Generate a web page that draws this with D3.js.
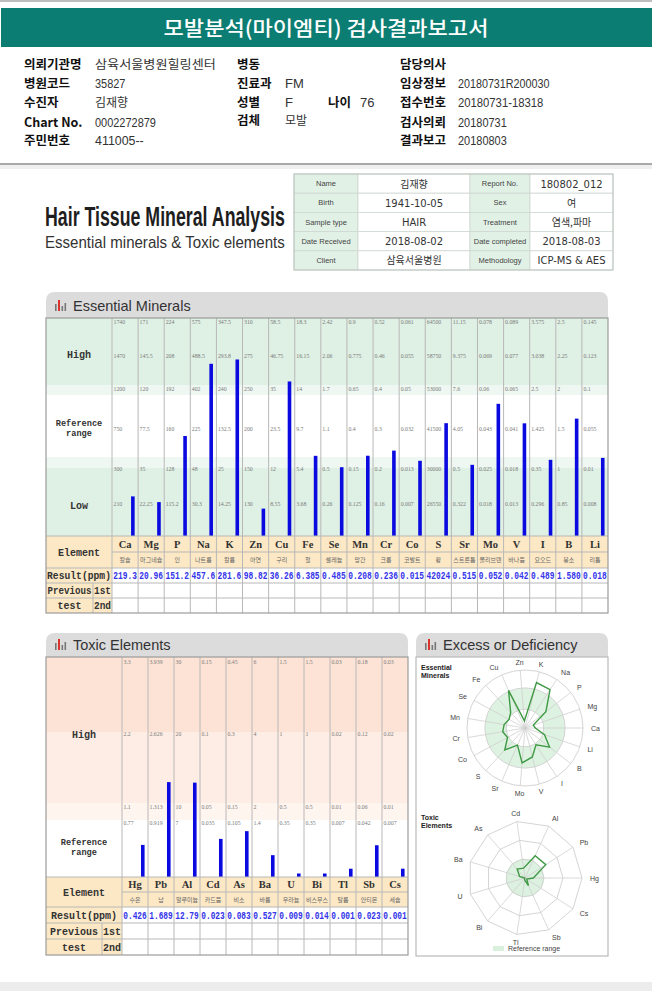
<!DOCTYPE html>
<html><head><meta charset="utf-8">
<script src="https://cdn.jsdelivr.net/npm/d3@7"></script>
<style>body{margin:0;background:#fff}svg{display:block}</style>
</head><body><svg id="c" width="652" height="991"></svg>
<script>
// ---------------- DATA ----------------
const reportTitle = "모발분석(마이엠티) 검사결과보고서";
const infoCol1Labels = ["의뢰기관명","병원코드","수진자","Chart No.","주민번호"];
const infoCol1Values = ["삼육서울병원힐링센터","35827","김재향","0002272879","411005--"];
const infoCol2Labels = ["병동","진료과","성별","검체"];
const infoCol2Values = ["","FM","F","모발"];
const infoCol3Labels = ["담당의사","임상정보","접수번호","검사의뢰","결과보고"];
const infoCol3Values = ["","20180731R200030","20180731-18318","20180731","20180803"];
const ageLabel = "나이", ageValue = "76";

const sheetLeftLabels = ["Name","Birth","Sample type","Date Received","Client"];
const sheetLeftValues = ["김재향","1941-10-05","HAIR","2018-08-02","삼육서울병원"];
const sheetRightLabels = ["Report No.","Sex","Treatment","Date completed","Methodology"];
const sheetRightValues = ["180802_012","여","염색,파마","2018-08-03","ICP-MS & AES"];

const essentialElements = ["Ca","Mg","P","Na","K","Zn","Cu","Fe","Se","Mn","Cr","Co","S","Sr","Mo","V","I","B","Li"];
const essentialKorean = ["칼슘","마그네슘","인","나트륨","칼륨","아연","구리","철","셀레늄","망간","크롬","코발트","황","스트론튬","몰리브덴","바나듐","요오드","붕소","리튬"];
const essentialResults = ["219.3","20.96","151.2","457.6","281.6","98.82","36.26","6.385","0.485","0.208","0.236","0.015","42024","0.515","0.052","0.042","0.489","1.580","0.018"];
// tick labels per element, top -> bottom
const essentialTicks = [
 ["1740","1470","1200","750","300","210"],
 ["171","145.5","120","77.5","35","22.25"],
 ["224","208","192","160","128","115.2"],
 ["575","488.5","402","225","48","30.3"],
 ["347.5","293.8","240","132.5","25","14.25"],
 ["310","275","250","200","150","130"],
 ["58.5","46.75","35","23.5","12","8.55"],
 ["18.3","16.15","14","9.7","5.4","3.68"],
 ["2.42","2.06","1.7","1.1","0.5","0.26"],
 ["0.9","0.775","0.65","0.4","0.15","0.125"],
 ["0.52","0.46","0.4","0.3","0.2","0.16"],
 ["0.061","0.055","0.05","0.032","0.013","0.007"],
 ["64500","58750","53000","41500","30000","26550"],
 ["11.15","9.375","7.6","4.05","0.5","0.322"],
 ["0.078","0.069","0.06","0.043","0.025","0.018"],
 ["0.089","0.077","0.065","0.041","0.018","0.013"],
 ["3.575","3.038","2.5","1.425","0.35","0.296"],
 ["2.5","2.25","2","1.5","1","0.85"],
 ["0.145","0.123","0.1","0.055","0.01","0.008"]
];

const toxicElements = ["Hg","Pb","Al","Cd","As","Ba","U","Bi","Tl","Sb","Cs"];
const toxicKorean = ["수은","납","알루미늄","카드뮴","비소","바륨","우라늄","비스무스","탈륨","안티몬","세슘"];
const toxicResults = ["0.426","1.689","12.79","0.023","0.083","0.527","0.009","0.014","0.001","0.023","0.001"];
const toxicTicks = [
 ["3.3","2.2","1.1","0.77"],
 ["3.939","2.626","1.313","0.919"],
 ["30","20","10","7"],
 ["0.15","0.1","0.05","0.035"],
 ["0.45","0.3","0.15","0.105"],
 ["6","4","2","1.4"],
 ["1.5","1","0.5","0.35"],
 ["1.5","1","0.5","0.35"],
 ["0.03","0.02","0.01","0.007"],
 ["0.18","0.12","0.06","0.042"],
 ["0.03","0.02","0.01","0.007"]
];

// ---------------- DRAWING ----------------
const svg = d3.select("#c");
const KR = "'Noto Sans CJK KR', sans-serif";
const SERIF = "'Liberation Serif','DejaVu Serif',serif";
const MONO = "'Liberation Mono','DejaVu Sans Mono',monospace";
const NARROW = "'Liberation Sans Narrow','Liberation Sans',Arial,sans-serif";
const SANS = "'Liberation Sans',Arial,sans-serif";
const hasHangul = s => /[\uac00-\ud7a3]/.test(s);

// squeeze/stretch a text horizontally to a given width (keeps real text)
function fit(sel, width, onlyShrink){
  const n = sel.node(); const len = n.getComputedTextLength();
  if(!len) return sel;
  let k = width/len; if(onlyShrink && k>1) k=1;
  const x=+sel.attr("x"), y=+sel.attr("y");
  sel.attr("x",0).attr("y",0).attr("transform",`translate(${x},${y}) scale(${k},1)`);
  return sel;
}

svg.append("rect").attr("width",652).attr("height",991).attr("fill","#fff");
svg.append("rect").attr("x",0).attr("y",0).attr("width",652).attr("height",2).attr("fill","#bdbdbd");

// title bar
svg.append("rect").attr("x",1).attr("y",8).attr("width",651).attr("height",39).attr("fill","#0b7d72");
fit(svg.append("text").attr("x",326).attr("y",36).attr("text-anchor","middle")
  .attr("font-family",KR).attr("font-size",20.5).attr("font-weight",500).attr("fill","#fff").text(reportTitle),325);

// patient info
function infoCol(labels, values, lx, vx, ys){
  labels.forEach((l,i)=>{
    svg.append("text").attr("x",lx).attr("y",ys[i]).attr("font-family",KR).attr("font-weight",700)
      .attr("font-size",12.5).attr("fill","#111").text(l);
    const v = values[i];
    if(v){
      const t = svg.append("text").attr("x",vx).attr("y",ys[i]).attr("font-family",hasHangul(v)?KR:SANS)
        .attr("font-size",hasHangul(v)?12:13).attr("fill","#333").text(v);
      if(v.length>=4) fit(t, hasHangul(v) ? v.length*12.1 : v.length*6.1);
    }
  });
}
infoCol(infoCol1Labels, infoCol1Values, 24, 95, [69,88,107,127,145]);
infoCol(infoCol2Labels, infoCol2Values, 237, 285, [69,88,107,125]);
infoCol(infoCol3Labels, infoCol3Values, 400, 458, [69,88,107,127,145]);
svg.append("text").attr("x",328).attr("y",107).attr("font-family",KR).attr("font-weight",700).attr("font-size",12.5).attr("fill","#111").text(ageLabel);
svg.append("text").attr("x",360).attr("y",107).attr("font-family",SANS).attr("font-size",13).attr("fill","#333").text(ageValue);

// separator
svg.append("rect").attr("x",0).attr("y",163).attr("width",652).attr("height",2).attr("fill","#a9a9a9");
svg.append("rect").attr("x",0).attr("y",165).attr("width",652).attr("height",4).attr("fill","#efefef");

// Hair tissue title
fit(svg.append("text").attr("x",45).attr("y",226).attr("font-family",NARROW).attr("font-weight",700)
  .attr("font-size",28).attr("fill","#1e1e1e").text("Hair Tissue Mineral Analysis"),240);
fit(svg.append("text").attr("x",45).attr("y",248).attr("font-family",NARROW)
  .attr("font-size",17).attr("fill","#333").text("Essential minerals & Toxic elements"),240);

// sheet table
(function(){
  const colsX=[294,358,470,530,613], y0=174, rh=19.2;
  sheetLeftLabels.forEach((l,i)=>{
    const y=y0+i*rh;
    [[0,l,true],[1,sheetLeftValues[i],false],[2,sheetRightLabels[i],true],[3,sheetRightValues[i],false]].forEach(([c,t,isLab])=>{
      const w=colsX[c+1]-colsX[c];
      svg.append("rect").attr("x",colsX[c]).attr("y",y).attr("width",w).attr("height",rh)
        .attr("fill",isLab?"#e2f1e6":"#fff").attr("stroke","#cfd8d2").attr("stroke-width",0.8);
      const cx=(colsX[c]+colsX[c+1])/2;
      const tx = svg.append("text").attr("x",cx).attr("y",y+rh/2+(isLab?2.5:4)).attr("text-anchor","middle")
        .attr("font-family",isLab?SANS:(hasHangul(t)?KR:"'DejaVu Sans',sans-serif"))
        .attr("font-size",isLab?7.5:10).attr("fill",isLab?"#444":"#333").text(t);
      fit(tx, w-3, true);
    });
  });
  svg.append("rect").attr("x",294).attr("y",174).attr("width",319).attr("height",rh*5)
    .attr("fill","none").attr("stroke","#b9c4bd").attr("stroke-width",1);
})();

// panel header tab
function panelHeader(x0,x1,y0,y1,title){
  const r=9;
  svg.append("path").attr("d",`M${x0},${y1} V${y0+r} Q${x0},${y0} ${x0+r},${y0} H${x1-r} Q${x1},${y0} ${x1},${y0+r} V${y1} Z`)
    .attr("fill","#dcdcdd");
  const ix=x0+9, by=y1-7;
  svg.append("rect").attr("x",ix).attr("y",by-7).attr("width",1.6).attr("height",7).attr("fill","#777");
  svg.append("rect").attr("x",ix+3).attr("y",by-11).attr("width",2).attr("height",11).attr("fill","#d9342b");
  svg.append("rect").attr("x",ix+6.5).attr("y",by-5).attr("width",1.6).attr("height",5).attr("fill","#777");
  svg.append("rect").attr("x",ix+9.5).attr("y",by-8).attr("width",1.6).attr("height",8).attr("fill","#777");
  svg.append("text").attr("x",x0+27).attr("y",y1-7).attr("font-family",SANS).attr("font-size",14.5)
    .attr("fill","#333").text(title);
}

// table + bars
function drawTable(cfg){
  const {x0,x1,labelW,subW,elems,kor,res,ticks,tickY,zeroY,zones,rowLabels,rows,zoneTop} = cfg;
  const xs = d3.scaleBand().domain(elems).range([x0+labelW,x1]);
  const cw = xs.bandwidth();
  const g = svg.append("g");
  zones.forEach(z=>g.append("rect").attr("x",x0).attr("y",z[0]).attr("width",x1-x0).attr("height",z[1]-z[0]).attr("fill",z[2]));
  const tan="#fce8c5";
  g.append("rect").attr("x",x0).attr("y",rows.el[0]).attr("width",x1-x0).attr("height",rows.kr[1]-rows.el[0]).attr("fill",tan);
  g.append("rect").attr("x",x0).attr("y",rows.res[0]).attr("width",labelW).attr("height",rows.p2[1]-rows.res[0]).attr("fill",tan);
  const lab=(t,x,y,w,fs)=>{const s=g.append("text").attr("x",x).attr("y",y).attr("text-anchor","middle").attr("font-family",MONO)
     .attr("font-weight",700).attr("font-size",fs||10).attr("fill","#333").text(t); fit(s,w,true); return s;};
  rowLabels.forEach(r=>r.lines.forEach((t,k)=>lab(t, x0+labelW/2, r.y+k*9.5, labelW-6, r.lines.length>1?8.6:10)));
  elems.forEach((e,i)=>{
    const tv = ticks[i].map(Number).slice().reverse();
    const y = d3.scaleLinear().domain([0,...tv]).range([zeroY,...tickY.slice().reverse()]).clamp(true);
    ticks[i].forEach((t,k)=>fit(g.append("text").attr("x",xs(e)+1.5).attr("y",tickY[k]+1.5).attr("dominant-baseline","hanging")
       .attr("font-family",SERIF).attr("font-size",5.8).attr("fill","#7a7a7a").text(t), cw-3, true));
    const v = +res[i];
    const top = Math.min(y(v), zeroY-3.5);
    g.append("rect").attr("x",xs(e)+cw*0.73).attr("y",top).attr("width",3.6).attr("height",zeroY-top).attr("fill","#0a0ae0");
    g.append("text").attr("x",xs(e)+cw/2).attr("y",(rows.el[0]+rows.el[1])/2+3.8).attr("text-anchor","middle")
      .attr("font-family",SERIF).attr("font-weight",700).attr("font-size",10.5).attr("fill","#333").text(e);
    fit(g.append("text").attr("x",xs(e)+cw/2).attr("y",(rows.kr[0]+rows.kr[1])/2+2.3).attr("text-anchor","middle")
      .attr("font-family",KR).attr("font-size",6).attr("fill","#666").text(kor[i]), cw-2, true);
    fit(g.append("text").attr("x",xs(e)+1.2).attr("y",(rows.res[0]+rows.res[1])/2+3.5)
      .attr("font-family",MONO).attr("font-weight",700).attr("font-size",10).attr("fill","#3535ea").text(res[i]), cw-2.4);
  });
  const lc="#b8b8b8";
  elems.forEach(e=>g.append("line").attr("x1",xs(e)).attr("x2",xs(e)).attr("y1",zoneTop).attr("y2",rows.p2[1]).attr("stroke",lc).attr("stroke-width",1));
  [rows.el[0],rows.res[0],rows.p1[0],rows.p2[0]].forEach(yy=>g.append("line").attr("x1",x0).attr("x2",x1).attr("y1",yy).attr("y2",yy).attr("stroke",lc));
  g.append("line").attr("x1",x0+labelW).attr("x2",x1).attr("y1",rows.kr[0]).attr("y2",rows.kr[0]).attr("stroke",lc);
  g.append("line").attr("x1",x0+labelW-subW).attr("x2",x0+labelW-subW).attr("y1",rows.p1[0]).attr("y2",rows.p2[1]).attr("stroke",lc);
  g.append("rect").attr("x",x0).attr("y",zoneTop).attr("width",x1-x0).attr("height",rows.p2[1]-zoneTop)
    .attr("fill","none").attr("stroke","#9c9c9c").attr("stroke-width",1.2);
  lab("Element", x0+labelW/2, (rows.el[0]+rows.kr[1])/2+3.5, labelW-6);
  lab("Result(ppm)", x0+labelW/2, (rows.res[0]+rows.res[1])/2+3.5, labelW-2);
  lab("Previous", x0+(labelW-subW)/2, (rows.p1[0]+rows.p1[1])/2+3.5, labelW-subW-3);
  lab("test", x0+(labelW-subW)/2, (rows.p2[0]+rows.p2[1])/2+3.5, labelW-subW-3);
  lab("1st", x0+labelW-subW/2, (rows.p1[0]+rows.p1[1])/2+3.5, subW-2);
  lab("2nd", x0+labelW-subW/2, (rows.p2[0]+rows.p2[1])/2+3.5, subW-2);
}

panelHeader(46,608,292,318,"Essential Minerals");
drawTable({x0:46,x1:608,labelW:66,subW:19,elems:essentialElements,kor:essentialKorean,res:essentialResults,
  ticks:essentialTicks,tickY:[318,352,385,425,465,500],zeroY:536,zoneTop:318,
  zones:[[318,385,"#dff0e4"],[385,395,"#eef7f1"],[395,457,"#ffffff"],[457,468,"#eef7f1"],[468,536,"#dff0e4"]],
  rowLabels:[{y:358,lines:["High"]},{y:426,lines:["Reference","range"]},{y:509,lines:["Low"]}],
  rows:{el:[536,552],kr:[552,568],res:[568,583],p1:[583,598],p2:[598,613]}});

panelHeader(46,408,633,657,"Toxic Elements");
drawTable({x0:46,x1:408,labelW:76,subW:20,elems:toxicElements,kor:toxicKorean,res:toxicResults,
  ticks:toxicTicks,tickY:[658,730,803,819],zeroY:877,zoneTop:657,
  zones:[[657,732,"#fde3d5"],[732,803,"#feede4"],[803,820,"#fff5ef"],[820,877,"#ffffff"]],
  rowLabels:[{y:738,lines:["High"]},{y:845,lines:["Reference","range"]}],
  rows:{el:[877,892],kr:[892,907],res:[907,923],p1:[923,939],p2:[939,955]}});

// ---------- Radar panel ----------
panelHeader(416,608,633,657,"Excess or Deficiency");
svg.append("rect").attr("x",416).attr("y",657).attr("width",192).attr("height",299).attr("fill","#fff")
  .attr("stroke","#b9b9b9").attr("stroke-width",1.2);

function radar(cfg){
  const {cx,cy,R,elems,res,ticks,tickY,zeroY,refLow,refHigh,circleGrid,title,titleY,gridLevels} = cfg;
  const g = svg.append("g");
  const n = elems.length, span = zeroY - tickY[0];
  const ang = i => i*2*Math.PI/n;
  const pt = (i,r)=>[cx + r*Math.cos(ang(i)), cy - r*Math.sin(ang(i))];
  const rr = d3.scaleLinear().domain([0,span]).range([0,R]);
  if(circleGrid){
    g.append("path").attr("d",d3.arc()({innerRadius:rr(refLow),outerRadius:rr(refHigh),startAngle:0,endAngle:2*Math.PI}))
      .attr("transform",`translate(${cx},${cy})`).attr("fill","#d8f0dc").attr("opacity",0.85);
    [rr(refLow),rr(refHigh),R].forEach(r=>g.append("circle").attr("cx",cx).attr("cy",cy).attr("r",r)
      .attr("fill","none").attr("stroke","#cfcfcf").attr("stroke-width",0.9));
  } else {
    g.append("circle").attr("cx",cx).attr("cy",cy).attr("r",rr(refHigh)).attr("fill","#d8f0dc").attr("opacity",0.9);
    gridLevels.forEach(f=>{
      const pts=d3.range(n).map(i=>pt(i,R*f));
      g.append("polygon").attr("points",pts.map(p=>p.join(",")).join(" ")).attr("fill","none")
        .attr("stroke","#cfcfcf").attr("stroke-width",0.9);
    });
  }
  d3.range(n).forEach(i=>{const p=pt(i,R); g.append("line").attr("x1",cx).attr("y1",cy).attr("x2",p[0]).attr("y2",p[1])
     .attr("stroke","#cfcfcf").attr("stroke-width",0.8);});
  const pts = elems.map((e,i)=>{
    const tv = ticks[i].map(Number).slice().reverse();
    const y = d3.scaleLinear().domain([0,...tv]).range([zeroY,...tickY.slice().reverse()]).clamp(true);
    return pt(i, rr(zeroY - y(+res[i])));
  });
  g.append("path").attr("d",d3.line().curve(d3.curveLinearClosed)(pts)).attr("fill","none")
    .attr("stroke","#3f9a45").attr("stroke-width",1.4);
  elems.forEach((e,i)=>{
    const c=Math.cos(ang(i)), s=Math.sin(ang(i));
    const p=pt(i,R+5);
    g.append("text").attr("x",p[0]+c*3).attr("y",p[1]-s*3+2.5)
      .attr("text-anchor",Math.abs(c)<0.3?"middle":(c>0?"start":"end"))
      .attr("font-family",SANS).attr("font-size",7).attr("fill","#444").text(e);
  });
  title.forEach((t,k)=>g.append("text").attr("x",421).attr("y",titleY+k*8).attr("font-family",SANS)
    .attr("font-weight",700).attr("font-size",7).attr("fill","#222").text(t));
}
radar({cx:525,cy:728,R:58,elems:essentialElements,res:essentialResults,ticks:essentialTicks,
  tickY:[318,352,385,425,465,500],zeroY:535,refLow:535-465,refHigh:535-385,circleGrid:true,
  title:["Essential","Minerals"],titleY:670});
radar({cx:525,cy:878,R:57,elems:toxicElements,res:toxicResults,ticks:toxicTicks,
  tickY:[658,730,803,819],zeroY:877,refLow:0,refHigh:877-803,circleGrid:false,gridLevels:[1/3,2/3,1],
  title:["Toxic","Elements"],titleY:820});
svg.append("rect").attr("x",493).attr("y",946).attr("width",11).attr("height",5).attr("fill","#d8f0dc");
svg.append("text").attr("x",508).attr("y",951).attr("font-family",SANS).attr("font-size",7).attr("fill","#444").text("Reference range");

svg.append("rect").attr("x",0).attr("y",982).attr("width",652).attr("height",9).attr("fill","#ececec");
</script></body></html>
